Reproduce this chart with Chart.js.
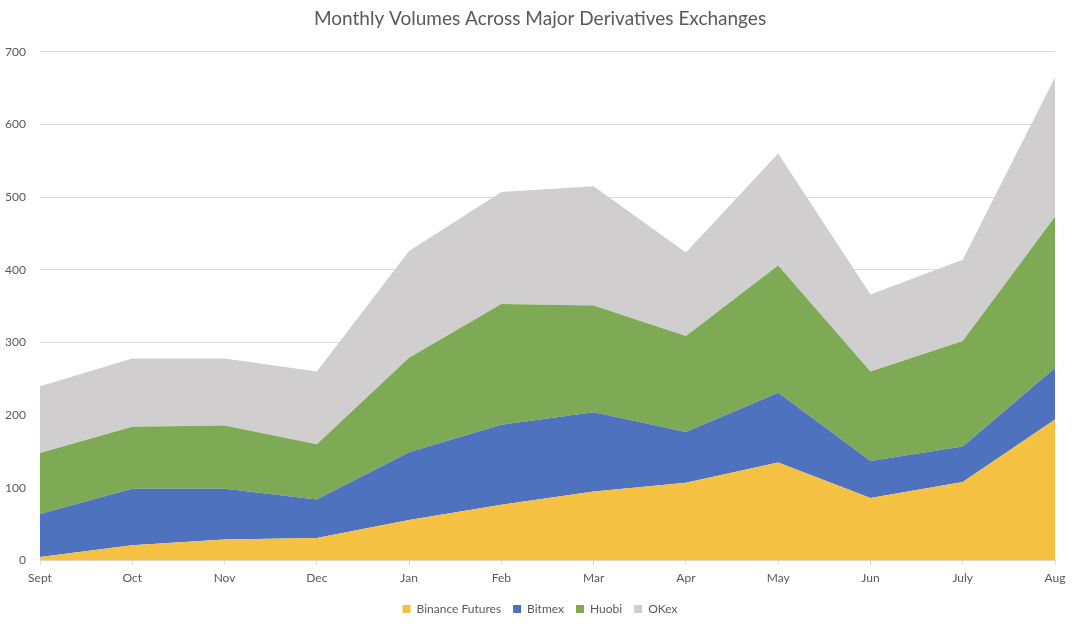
<!DOCTYPE html>
<html>
<head>
<meta charset="utf-8">
<script src="https://cdn.jsdelivr.net/npm/chart.js@4"></script>
<style>
    html, body { margin: 0; padding: 0; background: #fff; }
    #wrap { width: 1080px; height: 628px; }
</style>
</head>
<body>
<div id="wrap"><canvas id="volumeChart"></canvas></div>
<script>
// 月份与各交易所成交量（单位按原图读取）
const months = ['Sept', 'Oct', 'Nov', 'Dec', 'Jan', 'Feb', 'Mar', 'Apr', 'May', 'Jun', 'July', 'Aug'];
const binanceFutures = [5, 21, 29, 31, 56, 77, 95, 107, 135, 86, 108, 194];
const bitmex = [59, 78, 70, 53, 93, 110, 109, 70, 96, 51, 49, 71];
const huobi = [84, 85, 87, 76, 130, 166, 147, 132, 175, 123, 145, 208];
const okex = [92, 94, 92, 100, 147, 154, 164, 115, 154, 106, 112, 192];
const yTicks = [0, 100, 200, 300, 400, 500, 600, 700];

const textColor = '#595959';
const gridColor = '#d9d9d9';

function areaSet(label, data, color, fill) {
    return {
        label: label,
        data: data,
        backgroundColor: color,
        borderColor: color,
        borderWidth: 0,
        pointRadius: 0,
        pointHoverRadius: 0,
        tension: 0,
        fill: fill
    };
}

document.addEventListener('DOMContentLoaded', function() {
    const ctx = document.getElementById('volumeChart').getContext('2d');
    new Chart(ctx, {
        type: 'line',
        data: {
            labels: months,
            datasets: [
                areaSet('Binance Futures', binanceFutures, '#f4c143', 'origin'),
                areaSet('Bitmex', bitmex, '#4e72be', '-1'),
                areaSet('Huobi', huobi, '#7eaa55', '-1'),
                areaSet('OKex', okex, '#d0cece', '-1')
            ]
        },
        options: {
            responsive: true,
            maintainAspectRatio: false,
            animation: false,
            layout: {
                padding: { left: 0, right: 0, top: 0, bottom: 3 }
            },
            plugins: {
                title: {
                    display: true,
                    text: 'Monthly Volumes Across Major Derivatives Exchanges',
                    color: textColor,
                    font: { family: 'Lato', size: 19, weight: 'normal' },
                    padding: { top: 7, bottom: 22 }
                },
                legend: {
                    position: 'bottom',
                    labels: {
                        color: textColor,
                        boxWidth: 8,
                        boxHeight: 8,
                        padding: 12,
                        font: { family: 'Lato', size: 12 }
                    }
                },
                tooltip: { enabled: false }
            },
            scales: {
                x: {
                    offset: false,
                    grid: {
                        drawOnChartArea: false,
                        color: gridColor,
                        tickLength: 4
                    },
                    border: { color: gridColor },
                    ticks: {
                        color: textColor,
                        font: { family: 'Lato', size: 12 },
                        maxRotation: 0,
                        padding: 6
                    }
                },
                y: {
                    stacked: true,
                    min: 0,
                    max: 700,
                    afterFit: function(scale) { scale.width = 40; },
                    afterBuildTicks: function(scale) {
                        scale.ticks = yTicks.map(v => ({ value: v }));
                    },
                    grid: {
                        color: gridColor,
                        drawTicks: false
                    },
                    border: { display: false },
                    ticks: {
                        color: textColor,
                        font: { family: 'Lato', size: 12 },
                        padding: 14
                    }
                },
                // 右侧空白轴，让标题和图例居中于整个画布
                yRight: {
                    position: 'right',
                    min: 0,
                    max: 700,
                    afterFit: function(scale) { scale.width = 25; },
                    grid: { display: false },
                    border: { display: false },
                    ticks: { display: false }
                }
            }
        }
    });
});
</script>
</body>
</html>
